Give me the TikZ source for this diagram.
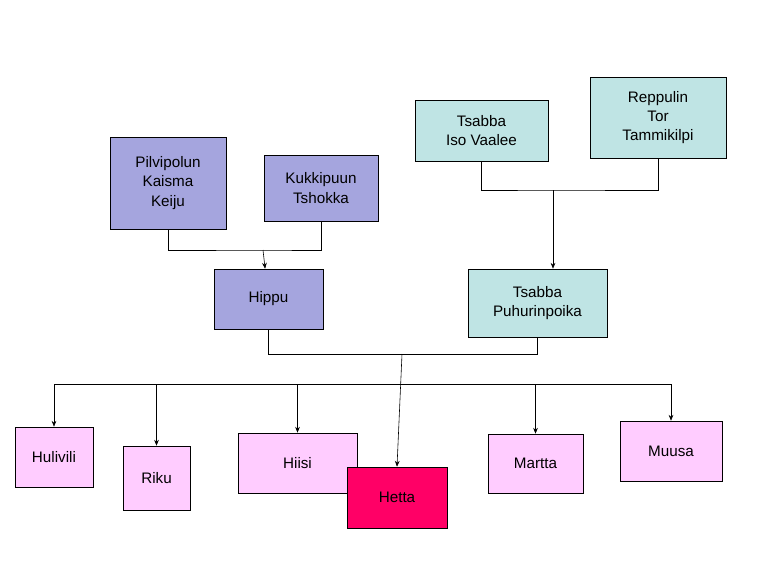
\documentclass[tikz,border=0pt]{standalone}
\usepackage{fontspec}
\setmainfont{Liberation Sans}
\usetikzlibrary{arrows.meta}
\definecolor{lav}{HTML}{A5A5DE}
\definecolor{sea}{HTML}{BFE4E4}
\definecolor{kid}{HTML}{FFCCFF}
\definecolor{hot}{HTML}{FF0066}
\tikzset{box/.style={draw, rectangle, align=center, inner sep=1pt, line width=0.5pt,
  font=\fontsize{13}{16.5}\selectfont},
  gp/.style={box, fill=lav}, tp/.style={box, fill=sea}, ch/.style={box, fill=kid},
  ln/.style={line width=0.5pt}, ar/.style={ln, -{Stealth[length=5pt,width=4pt]}}}
\begin{document}
\begin{tikzpicture}[x=0.03cm,y=-0.03cm]
\useasboundingbox (0,0) rectangle (768,576);
\node[gp, minimum width=3.48cm, minimum height=2.76cm] (pilvi) at (168,183) {Pilvipolun\\Kaisma\\ Keiju};
\node[gp, minimum width=3.42cm, minimum height=1.98cm] (kukki) at (321,188) {Kukkipuun\\Tshokka};
\node[tp, minimum width=3.99cm, minimum height=1.83cm] (iso) at (481.5,130.5) {Tsabba\\Iso Vaalee};
\node[tp, minimum width=4.08cm, minimum height=2.43cm] (tor) at (658,117.5) {Reppulin\\Tor\\Tammikilpi};
\node[gp, minimum width=3.27cm, minimum height=1.8cm] (hippu) at (268.5,299) {Hippu};
\node[tp, minimum width=4.17cm, minimum height=2.04cm] (puhuri) at (537.5,303) {Tsabba\\Puhurinpoika};
% lapset
\node[ch, minimum width=2.34cm, minimum height=1.8cm] (hulivili) at (54,457) {Hulivili};
\node[ch, minimum width=2.01cm, minimum height=1.92cm] (riku) at (156.5,478) {Riku};
\node[ch, minimum width=3.57cm, minimum height=1.8cm] (hiisi) at (297.5,463) {Hiisi};
\node[box, fill=hot, minimum width=3.0cm, minimum height=1.83cm] (hetta) at (397,497.5) {Hetta};
\node[ch, minimum width=2.85cm, minimum height=1.77cm] (martta) at (535.5,463.5) {Martta};
\node[ch, minimum width=3.06cm, minimum height=1.8cm] (muusa) at (671,451) {Muusa};

\coordinate (j1) at (263,250);
\coordinate (j2) at (553,190);
\coordinate (j3) at (402,354);
\coordinate (bar) at (402,384);
\draw[ln] (pilvi.south) |- (j1) -| (kukki.south);
\draw[ar] (j1) -- (hippu);
\draw[ln] (iso.south) |- (j2) -| (tor.south);
\draw[ar] (j2) -- (puhuri.north -| j2);
\draw[ln] (hippu.south) |- (j3) -| (puhuri.south);
\draw[ar] (j3) -- (hetta.north);
\draw[ln] (hulivili.north |- bar) -- (muusa.north |- bar);
\foreach \k in {hulivili,riku,hiisi,martta,muusa}
  \draw[ar] (\k.north |- bar) -- (\k.north);
\end{tikzpicture}
\end{document}
